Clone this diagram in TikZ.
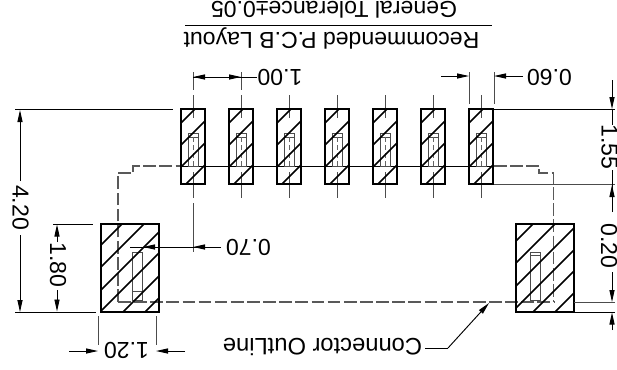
\documentclass[tikz,border=0pt]{standalone}
\usepackage{fontspec}
\setmainfont{Liberation Sans}
\usetikzlibrary{arrows.meta}
\tikzset{
  padline/.style={line width=1.7pt,black},
  hatchline/.style={line width=1.15pt,black},
  thinline/.style={line width=0.7pt,black},
  pinline/.style={line width=0.6pt,black!70},
  outline/.style={line width=0.9pt,black!65,dash pattern=on 9.5pt off 2.6pt},
  tip/.style={thinline,-{Stealth[inset=0pt,length=9pt,width=3.8pt]}},
  upside/.style={rotate=180,inner sep=0pt,font=\fontsize{17.3pt}{20pt}\selectfont},
  sideways/.style={rotate=-90,inner sep=0pt,font=\fontsize{17.3pt}{20pt}\selectfont}
}
\begin{document}
\begin{tikzpicture}[x=0.75pt,y=-0.75pt]
\useasboundingbox (0,0) rectangle (617,369);
% connector outline
\draw[outline] (118,302) -- (554,302);
\draw[outline] (118,302) -- (118,173) -- (133,173) -- (133,166) -- (181,166);
\draw[outline] (494,166) -- (539,166) -- (539,173) -- (553.5,173) -- (553.5,302);
\draw[thinline] (181,166) -- (494,166);
% small pads
\foreach \px in {181,229,277,325,373,421,469}{
  \pgfmathsetmacro{\cx}{\px+12}
  \draw[pinline] (\px+7,133) rectangle (\px+17,166);
  \draw[pinline] (\px+7,137) -- (\px+17,137);
  \draw[thinline,black!70] (\cx,95) -- (\cx,118);
  \draw[thinline,black!60,dash pattern=on 4pt off 2pt] (\cx,137) -- (\cx,166);
  \draw[thinline,black!70] (\cx,172) -- (\cx,198);
  \draw[hatchline] (\px,123) -- (\px+14,109);
  \draw[hatchline] (\px,145) -- (\px+24,121);
  \draw[hatchline] (\px,167) -- (\px+24,143);
  \draw[hatchline] (\px+5,184) -- (\px+24,165);
  \draw[padline] (\px,109) rectangle (\px+24,184);
}
% big pads
\draw[pinline] (132,252) rectangle (142,300);
\draw[pinline] (132,291) -- (142,291);
\draw[pinline] (530,252) rectangle (540,300);
\draw[pinline] (530,255) -- (540,255);
\foreach \s in {346,368,391,412,435,457}{
  \pgfmathsetmacro{\xa}{max(101,\s-312)}
  \pgfmathsetmacro{\ya}{\s-\xa}
  \pgfmathsetmacro{\xb}{min(159,\s-224)}
  \pgfmathsetmacro{\yb}{\s-\xb}
  \draw[hatchline] (\xa,\ya) -- (\xb,\yb);
}
\foreach \s in {757,779,802,824,845,867}{
  \pgfmathsetmacro{\xa}{max(516,\s-312)}
  \pgfmathsetmacro{\ya}{\s-\xa}
  \pgfmathsetmacro{\xb}{min(574,\s-224)}
  \pgfmathsetmacro{\yb}{\s-\xb}
  \draw[hatchline] (\xa,\ya) -- (\xb,\yb);
}
\draw[padline] (101,224) rectangle (159,312);
\draw[padline] (516,224) rectangle (574,312);
% title
\node[upside] (tol) at (334,10) {General Tolerance±0.05};
\node[upside] (rec) at (331.5,38) {Recommended P.C.B Layout};
\draw[thinline] (185,25) -- (492,25);
% 1.00
\node[upside] (d100) at (280,77) {1.00};
\draw[thinline,black!70] (193,72) -- (193,90);
\draw[thinline,black!70] (241,72) -- (241,90);
\draw[thinline] (193,77) -- (d100.east);
\draw[tip] (217,77) -- (193,77);
\draw[tip] (217,77) -- (241,77);
% 0.60
\node[upside] (d060) at (549.5,77) {0.60};
\coordinate (t060) at (494,76);
\draw[thinline,black!70] (469,72) -- (469,104);
\draw[thinline,black!70] (494,72) -- (494,104);
\draw[tip] (441,76) -- (469,76);
\draw[tip] (523,76) -- (t060);
% 4.20
\node[sideways] (d420) at (20.5,207.5) {4.20};
\draw[thinline] (15,109.5) -- (173,109.5);
\draw[thinline] (15,312) -- (96,312);
\draw[tip] (20,181) -- (20,110);
\draw[tip] (20,235) -- (20,312);
% 1.80
\node[sideways] (d180) at (58,265) {1.80};
\draw[thinline] (53,224) -- (93,224);
\draw[tip] (57,242) -- (57,224.5);
\draw[tip] (57,290) -- (57,311.5);
% 1.55 / 0.20
\node[sideways] (d155) at (609.5,147) {1.55};
\node[sideways] (d020) at (609,246) {0.20};
\draw[thinline] (494,109) -- (615,109);
\draw[thinline,black!70] (494,184) -- (615,184);
\draw[thinline,black!70] (574,302) -- (615,302);
\draw[thinline] (574,312) -- (615,312);
\draw[tip] (612,80) -- (612,109);
\draw[thinline] (612,109) -- (612,125);
\draw[thinline] (612,170) -- (612,212);
\draw[tip] (612,212) -- (612,185);
\draw[tip] (612,272) -- (612,302);
\draw[tip] (612,330) -- (612,312.5);
% 0.70
\node[upside] (d070) at (248.5,247) {0.70};
\draw[thinline,black!70] (193,203) -- (193,252);
\draw[thinline] (130,247) -- (221,247);
\draw[tip] (221,247) -- (193,247);
\draw[tip] (165,247) -- (143,247);
% 1.20
\node[upside] (d120) at (126.5,350) {1.20};
\draw[thinline,black!70] (98,316) -- (98,345);
\draw[thinline,black!70] (156,316) -- (156,345);
\draw[tip] (69,351) -- (98,351);
\draw[tip] (185,351) -- (156,351);
% connector outline label
\node[upside,font=\fontsize{17.8pt}{20pt}\selectfont] (lbl) at (322.5,347) {Connector OutLine};
\coordinate (bend) at (448,348);
\coordinate (aim) at (489,303);
\draw[thinline] (425,348) -- (bend);
\draw[tip] (bend) -- (aim);
\end{tikzpicture}
\end{document}
